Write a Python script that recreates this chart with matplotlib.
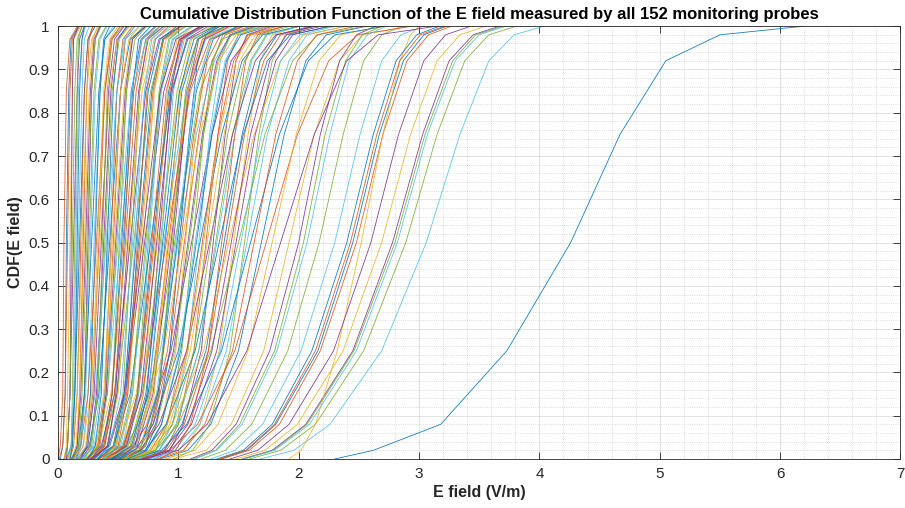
import numpy as np
import matplotlib
matplotlib.use("Agg")
import matplotlib.pyplot as plt
from matplotlib.ticker import MultipleLocator

plt.rcParams['font.family'] = ['Liberation Sans', 'DejaVu Sans']

# CDF levels at which the E field quantiles were read off the probe curves
# (coarse for the dense bundle on the left, finer for the spread-out curves)
cdf_levels_coarse = [0, 0.03, 0.15, 0.5, 0.85, 0.97, 1]
cdf_levels_fine = [0, 0.02, 0.08, 0.25, 0.5, 0.75, 0.92, 0.98, 1]

# E field (V/m) at those levels, one row per probe
probes_low = [
    [0.00, 0.02, 0.04, 0.05, 0.07, 0.10, 0.16],
    [0.02, 0.04, 0.06, 0.07, 0.09, 0.11, 0.17],
    [0.01, 0.04, 0.06, 0.08, 0.10, 0.12, 0.18],
    [0.05, 0.07, 0.08, 0.10, 0.12, 0.13, 0.19],
    [0.07, 0.08, 0.10, 0.11, 0.12, 0.13, 0.17],
    [0.06, 0.08, 0.10, 0.12, 0.14, 0.16, 0.20],
    [0.05, 0.08, 0.10, 0.13, 0.16, 0.18, 0.22],
    [0.08, 0.11, 0.12, 0.14, 0.16, 0.17, 0.20],
    [0.08, 0.11, 0.13, 0.15, 0.17, 0.20, 0.23],
    [0.10, 0.12, 0.14, 0.16, 0.18, 0.20, 0.22],
    [0.09, 0.12, 0.14, 0.17, 0.20, 0.22, 0.26],
    [0.07, 0.11, 0.14, 0.18, 0.22, 0.25, 0.31],
    [0.10, 0.13, 0.16, 0.19, 0.22, 0.25, 0.29],
    [0.08, 0.12, 0.16, 0.20, 0.24, 0.28, 0.34],
    [0.13, 0.16, 0.18, 0.21, 0.24, 0.26, 0.29],
    [0.11, 0.15, 0.18, 0.22, 0.26, 0.29, 0.33],
    [0.12, 0.16, 0.19, 0.23, 0.27, 0.30, 0.35],
    [0.12, 0.17, 0.20, 0.24, 0.28, 0.31, 0.36],
    [0.15, 0.19, 0.22, 0.25, 0.28, 0.31, 0.35],
    [0.13, 0.18, 0.22, 0.26, 0.30, 0.34, 0.40],
    [0.14, 0.19, 0.23, 0.27, 0.31, 0.35, 0.41],
    [0.11, 0.17, 0.22, 0.28, 0.34, 0.39, 0.48],
    [0.15, 0.21, 0.25, 0.30, 0.35, 0.39, 0.46],
    [0.19, 0.24, 0.27, 0.31, 0.35, 0.38, 0.43],
    [0.12, 0.19, 0.25, 0.32, 0.39, 0.45, 0.54],
    [0.17, 0.23, 0.28, 0.33, 0.38, 0.43, 0.50],
    [0.17, 0.24, 0.29, 0.34, 0.39, 0.44, 0.52],
    [0.13, 0.21, 0.27, 0.35, 0.43, 0.49, 0.60],
    [0.18, 0.25, 0.30, 0.36, 0.42, 0.47, 0.55],
    [0.22, 0.28, 0.33, 0.37, 0.41, 0.45, 0.52],
    [0.19, 0.27, 0.32, 0.38, 0.44, 0.49, 0.58],
    [0.20, 0.27, 0.33, 0.39, 0.45, 0.51, 0.59],
    [0.15, 0.24, 0.31, 0.40, 0.49, 0.56, 0.68],
    [0.25, 0.31, 0.36, 0.41, 0.46, 0.50, 0.57],
    [0.21, 0.29, 0.35, 0.42, 0.49, 0.55, 0.64],
    [0.16, 0.26, 0.34, 0.43, 0.52, 0.60, 0.73],
    [0.26, 0.33, 0.39, 0.44, 0.49, 0.54, 0.62],
    [0.23, 0.32, 0.38, 0.45, 0.52, 0.59, 0.68],
    [0.28, 0.35, 0.40, 0.46, 0.52, 0.56, 0.64],
    [0.24, 0.33, 0.39, 0.47, 0.55, 0.61, 0.71],
    [0.24, 0.34, 0.40, 0.48, 0.56, 0.62, 0.73],
    [0.25, 0.34, 0.41, 0.49, 0.57, 0.64, 0.74],
]

probes_mid = [
    [0.19, 0.30, 0.39, 0.50, 0.61, 0.70, 0.85],
    [0.31, 0.39, 0.45, 0.51, 0.57, 0.62, 0.71],
    [0.20, 0.31, 0.41, 0.52, 0.63, 0.73, 0.88],
    [0.27, 0.37, 0.45, 0.53, 0.61, 0.69, 0.81],
    [0.27, 0.38, 0.45, 0.54, 0.63, 0.70, 0.82],
    [0.33, 0.42, 0.48, 0.55, 0.62, 0.67, 0.77],
    [0.28, 0.39, 0.47, 0.56, 0.65, 0.73, 0.85],
    [0.22, 0.34, 0.44, 0.57, 0.70, 0.80, 0.97],
    [0.29, 0.41, 0.49, 0.58, 0.67, 0.75, 0.88],
    [0.30, 0.41, 0.50, 0.59, 0.68, 0.77, 0.90],
    [0.23, 0.36, 0.47, 0.60, 0.73, 0.84, 1.02],
    [0.37, 0.46, 0.54, 0.61, 0.68, 0.74, 0.85],
    [0.31, 0.43, 0.52, 0.62, 0.72, 0.81, 0.94],
    [0.24, 0.38, 0.49, 0.63, 0.77, 0.88, 1.07],
    [0.38, 0.49, 0.56, 0.64, 0.72, 0.78, 0.90],
    [0.33, 0.46, 0.55, 0.65, 0.75, 0.85, 0.99],
    [0.40, 0.50, 0.58, 0.66, 0.74, 0.81, 0.92],
    [0.34, 0.47, 0.56, 0.67, 0.78, 0.87, 1.02],
    [0.34, 0.48, 0.57, 0.68, 0.79, 0.88, 1.03],
    [0.35, 0.48, 0.58, 0.69, 0.80, 0.90, 1.05],
    [0.27, 0.42, 0.55, 0.70, 0.85, 0.98, 1.19],
    [0.43, 0.54, 0.62, 0.71, 0.80, 0.87, 0.99],
    [0.27, 0.43, 0.56, 0.72, 0.88, 1.01, 1.22],
    [0.37, 0.51, 0.61, 0.73, 0.85, 0.95, 1.11],
    [0.37, 0.52, 0.62, 0.74, 0.86, 0.96, 1.12],
    [0.45, 0.57, 0.66, 0.75, 0.84, 0.92, 1.05],
    [0.46, 0.58, 0.67, 0.76, 0.85, 0.93, 1.06],
    [0.29, 0.46, 0.60, 0.77, 0.94, 1.08, 1.31],
    [0.39, 0.55, 0.66, 0.78, 0.90, 1.01, 1.19],
    [0.40, 0.55, 0.66, 0.79, 0.92, 1.03, 1.20],
    [0.40, 0.56, 0.67, 0.80, 0.93, 1.04, 1.22],
    [0.49, 0.62, 0.71, 0.81, 0.91, 0.99, 1.13],
    [0.41, 0.57, 0.69, 0.82, 0.95, 1.07, 1.25],
    [0.32, 0.50, 0.65, 0.83, 1.01, 1.16, 1.41],
    [0.50, 0.64, 0.74, 0.84, 0.94, 1.02, 1.18],
    [0.43, 0.60, 0.71, 0.85, 0.99, 1.10, 1.29],
    [0.52, 0.65, 0.76, 0.86, 0.96, 1.05, 1.20],
    [0.44, 0.61, 0.73, 0.87, 1.01, 1.13, 1.32],
    [0.33, 0.53, 0.69, 0.88, 1.07, 1.23, 1.50],
    [0.45, 0.62, 0.75, 0.89, 1.03, 1.16, 1.35],
    [0.34, 0.54, 0.70, 0.90, 1.10, 1.26, 1.53],
    [0.55, 0.69, 0.80, 0.91, 1.02, 1.11, 1.27],
    [0.46, 0.64, 0.77, 0.92, 1.07, 1.20, 1.40],
    [0.47, 0.65, 0.78, 0.93, 1.08, 1.21, 1.41],
    [0.47, 0.66, 0.79, 0.94, 1.09, 1.22, 1.43],
    [0.57, 0.72, 0.84, 0.95, 1.06, 1.16, 1.33],
    [0.58, 0.73, 0.84, 0.96, 1.08, 1.17, 1.34],
    [0.37, 0.58, 0.76, 0.97, 1.18, 1.36, 1.65],
    [0.49, 0.69, 0.82, 0.98, 1.14, 1.27, 1.49],
    [0.50, 0.69, 0.83, 0.99, 1.15, 1.29, 1.50],
]

probes_upper = [
    [0.38, 0.54, 0.67, 0.85, 1.00, 1.15, 1.30, 1.44, 1.70],
    [0.63, 0.73, 0.82, 0.93, 1.01, 1.09, 1.16, 1.23, 1.39],
    [0.51, 0.65, 0.77, 0.91, 1.02, 1.13, 1.24, 1.35, 1.55],
    [0.39, 0.56, 0.69, 0.88, 1.03, 1.18, 1.34, 1.48, 1.75],
    [0.53, 0.67, 0.79, 0.93, 1.05, 1.17, 1.28, 1.39, 1.60],
    [0.66, 0.76, 0.86, 0.98, 1.06, 1.14, 1.22, 1.29, 1.46],
    [0.54, 0.69, 0.81, 0.96, 1.08, 1.20, 1.32, 1.43, 1.64],
    [0.55, 0.70, 0.82, 0.97, 1.09, 1.21, 1.33, 1.44, 1.66],
    [0.42, 0.60, 0.74, 0.94, 1.11, 1.28, 1.44, 1.60, 1.89],
    [0.69, 0.81, 0.91, 1.03, 1.12, 1.21, 1.29, 1.37, 1.55],
    [0.57, 0.73, 0.86, 1.01, 1.14, 1.27, 1.39, 1.50, 1.73],
    [0.58, 0.74, 0.86, 1.02, 1.15, 1.28, 1.40, 1.52, 1.75],
    [0.73, 0.84, 0.95, 1.08, 1.17, 1.26, 1.35, 1.43, 1.61],
    [0.45, 0.64, 0.79, 1.00, 1.18, 1.36, 1.53, 1.70, 2.01],
    [0.60, 0.77, 0.90, 1.07, 1.20, 1.33, 1.46, 1.58, 1.82],
    [0.61, 0.77, 0.91, 1.08, 1.21, 1.34, 1.48, 1.60, 1.84],
    [0.76, 0.89, 1.00, 1.13, 1.23, 1.33, 1.41, 1.50, 1.70],
    [0.62, 0.79, 0.93, 1.10, 1.24, 1.38, 1.51, 1.64, 1.88],
    [0.48, 0.68, 0.84, 1.07, 1.26, 1.45, 1.64, 1.81, 2.14],
    [0.64, 0.81, 0.95, 1.13, 1.27, 1.41, 1.55, 1.68, 1.93],
    [0.80, 0.93, 1.04, 1.19, 1.29, 1.39, 1.48, 1.57, 1.78],
    [0.66, 0.84, 0.98, 1.17, 1.31, 1.45, 1.60, 1.73, 1.99],
    [0.66, 0.84, 0.99, 1.17, 1.32, 1.47, 1.61, 1.74, 2.01],
    [0.51, 0.72, 0.90, 1.14, 1.34, 1.54, 1.74, 1.93, 2.28],
    [0.84, 0.98, 1.10, 1.25, 1.36, 1.47, 1.56, 1.66, 1.88],
    [0.69, 0.88, 1.03, 1.23, 1.38, 1.53, 1.68, 1.82, 2.10],
    [0.70, 0.90, 1.05, 1.25, 1.40, 1.55, 1.71, 1.85, 2.13],
    [0.54, 0.77, 0.95, 1.21, 1.42, 1.63, 1.85, 2.04, 2.41],
    [0.72, 0.92, 1.08, 1.28, 1.44, 1.60, 1.76, 1.90, 2.19],
    [0.91, 1.05, 1.18, 1.34, 1.46, 1.58, 1.68, 1.78, 2.01],
    [0.74, 0.95, 1.11, 1.32, 1.48, 1.64, 1.81, 1.95, 2.25],
    [0.57, 0.81, 1.00, 1.27, 1.50, 1.72, 1.95, 2.16, 2.55],
    [0.76, 0.97, 1.14, 1.35, 1.52, 1.69, 1.85, 2.01, 2.31],
    [0.96, 1.12, 1.26, 1.43, 1.55, 1.67, 1.78, 1.89, 2.14],
    [0.79, 1.00, 1.18, 1.40, 1.57, 1.74, 1.92, 2.07, 2.39],
    [0.61, 0.86, 1.07, 1.36, 1.60, 1.84, 2.08, 2.30, 2.72],
    [0.82, 1.04, 1.22, 1.45, 1.63, 1.81, 1.99, 2.15, 2.48],
    [0.85, 1.08, 1.27, 1.50, 1.69, 1.88, 2.06, 2.23, 2.57],
    [0.66, 0.93, 1.16, 1.47, 1.73, 1.99, 2.25, 2.49, 2.94],
    [0.89, 1.14, 1.33, 1.58, 1.78, 1.98, 2.17, 2.35, 2.71],
    [0.70, 1.00, 1.24, 1.57, 1.85, 2.13, 2.40, 2.66, 3.15],
    [0.96, 1.23, 1.44, 1.71, 1.92, 2.13, 2.34, 2.53, 2.92],
]

probes_high = [
    [1.10, 1.28, 1.48, 1.76, 2.00, 2.18, 2.34, 2.48, 2.64],
    [1.12, 1.31, 1.51, 1.80, 2.04, 2.22, 2.39, 2.53, 2.69],
    [1.14, 1.32, 1.53, 1.82, 2.07, 2.26, 2.42, 2.57, 2.73],
    [1.19, 1.39, 1.61, 1.91, 2.17, 2.37, 2.54, 2.69, 2.86],
    [1.27, 1.47, 1.70, 2.02, 2.30, 2.51, 2.69, 2.85, 3.04],
    [1.32, 1.54, 1.78, 2.11, 2.40, 2.62, 2.81, 2.98, 3.17],
    [1.34, 1.56, 1.80, 2.14, 2.43, 2.65, 2.84, 3.01, 3.21],
    [1.35, 1.57, 1.81, 2.16, 2.45, 2.67, 2.87, 3.04, 3.23],
    [1.36, 1.59, 1.84, 2.18, 2.48, 2.70, 2.90, 3.08, 3.27],
    [1.92, 2.02, 2.14, 2.32, 2.52, 2.70, 2.84, 2.93, 3.00],
    [1.43, 1.66, 1.92, 2.29, 2.60, 2.83, 3.04, 3.22, 3.43],
    [1.48, 1.72, 1.99, 2.37, 2.69, 2.93, 3.15, 3.34, 3.55],
    [1.53, 1.78, 2.06, 2.45, 2.78, 3.03, 3.25, 3.45, 3.67],
    [1.54, 1.79, 2.07, 2.46, 2.80, 3.05, 3.28, 3.47, 3.70],
    [1.55, 1.80, 2.09, 2.48, 2.82, 3.07, 3.30, 3.50, 3.72],
    [1.59, 1.85, 2.14, 2.54, 2.89, 3.15, 3.38, 3.58, 3.81],
    [1.68, 1.96, 2.26, 2.69, 3.06, 3.34, 3.58, 3.79, 4.04],
]

probe_outlier = [
    [2.30, 2.62, 3.18, 3.73, 4.26, 4.67, 5.05, 5.50, 6.20],
]

coarse_probes = probes_low + probes_mid
fine_probes = probes_upper + probes_high + probe_outlier

# line colours seen in the figure (MATLAB order, without the dark red)
colours = ['#0072BD', '#D95319', '#EDB120', '#7E2F8E', '#77AC30', '#4DBEEE']
dark = '#262626'

fig = plt.figure(figsize=(9.05, 5.08), dpi=100)
ax = fig.add_axes([0.064, 0.0965, 0.931, 0.852])

curves = ([(q, cdf_levels_coarse) for q in coarse_probes]
          + [(q, cdf_levels_fine) for q in fine_probes])

# probes were plotted in acquisition order, not sorted by level
n = len(curves)
for i in range(n):
    q, lev = curves[(i * 37 + 1) % n]
    ax.plot(q, lev, color=colours[i % len(colours)], lw=0.6, alpha=0.9)

ax.set_xlim(0, 7)
ax.set_ylim(0, 1)
ax.xaxis.set_major_locator(MultipleLocator(1))
ax.xaxis.set_minor_locator(MultipleLocator(0.2))
ax.yaxis.set_major_locator(MultipleLocator(0.1))
ax.yaxis.set_minor_locator(MultipleLocator(0.02))
ax.yaxis.set_major_formatter(plt.FuncFormatter(lambda v, p: f'{v:g}'))

ax.grid(True, which='major', color=dark, alpha=0.15, lw=0.6)
ax.grid(True, which='minor', color=dark, alpha=0.22, lw=0.6, ls=':')
ax.set_axisbelow(True)

ax.tick_params(which='major', direction='in', top=True, right=True,
               length=5, width=0.6, color=dark, labelcolor=dark,
               labelsize=11, pad=6)
ax.tick_params(which='minor', length=0)
for s in ax.spines.values():
    s.set_color(dark)
    s.set_linewidth(0.6)

ax.set_title('Cumulative Distribution Function of the E field measured by all 152 monitoring probes',
             fontweight='bold', fontsize=12, color='black', pad=5)
ax.set_xlabel('E field (V/m)', fontweight='bold', fontsize=11.5, color=dark, labelpad=3)
ax.set_ylabel('CDF(E field)', fontweight='bold', fontsize=11.5, color=dark, labelpad=4)

fig.savefig('out.png', dpi=100)
